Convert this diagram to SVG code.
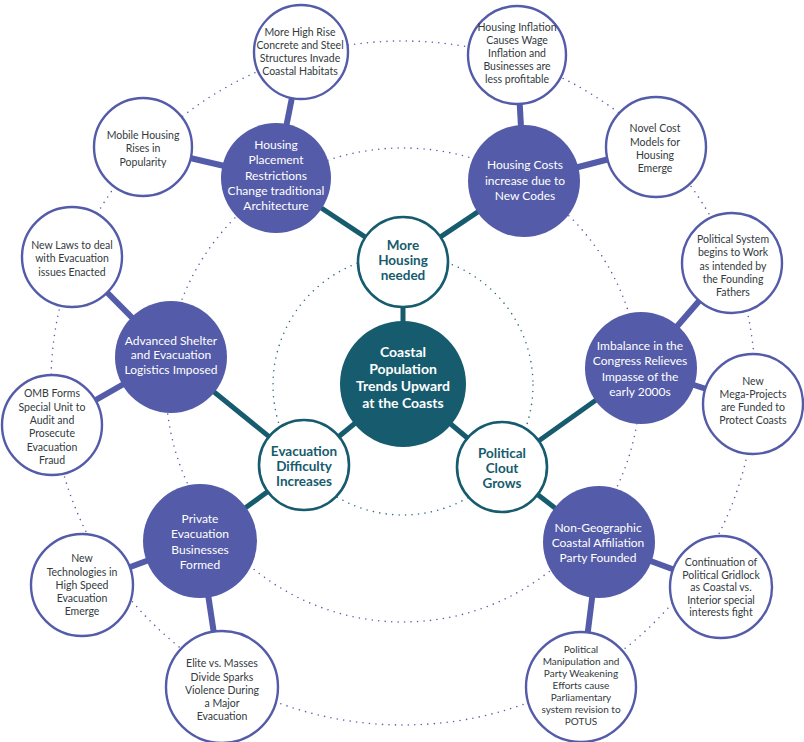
<svg xmlns="http://www.w3.org/2000/svg" width="804" height="742" viewBox="0 0 804 742">
<style>
.bg{fill:#ffffff}
.ring{fill:none;stroke-linecap:round;stroke-width:1.6;stroke-dasharray:0 6.5}
.rp{stroke:#5a60ac}
.rt{stroke:#2e6e80}
.ct{stroke:#165b6e;stroke-width:5;fill:none}
.cp{stroke:#545ba8;stroke-width:6;fill:none}
.core{fill:#165b6e}
.mid{fill:#ffffff;stroke:#165b6e;stroke-width:2.6}
.pur{fill:#545ba8}
.out{fill:#ffffff;stroke:#545ba8;stroke-width:2.4}
text{font-family:Lato,"Open Sans","Liberation Sans",sans-serif;text-anchor:middle}
.tc{fill:#ffffff;font-size:14px;font-weight:bold}
.tm{fill:#165b6e;font-size:13.5px;font-weight:bold}
.tp{fill:#ffffff;font-size:12px}
.to{fill:#333a40;font-size:10.5px}
.ts{fill:#333a40;font-size:10px}
</style>
<rect class="bg" x="0" y="0" width="804" height="742"/>
<g id="rings">
<circle class="ring rt" cx="403" cy="385" r="130"/>
<circle class="ring rp" cx="403" cy="385" r="237"/>
<ellipse class="ring rp" cx="403" cy="383" rx="352" ry="342"/>
</g>
<g id="connectors">
<line class="ct" x1="403" y1="384" x2="403" y2="262"/>
<line class="ct" x1="403" y1="384" x2="304" y2="465"/>
<line class="ct" x1="403" y1="384" x2="502" y2="467"/>
<line class="ct" x1="403" y1="262" x2="276" y2="178"/>
<line class="ct" x1="403" y1="262" x2="524" y2="181"/>
<line class="ct" x1="304" y1="465" x2="171" y2="357"/>
<line class="ct" x1="304" y1="465" x2="200" y2="541"/>
<line class="ct" x1="502" y1="467" x2="641" y2="368"/>
<line class="ct" x1="502" y1="467" x2="599" y2="542"/>
<line class="cp" x1="276" y1="178" x2="301" y2="52"/>
<line class="cp" x1="276" y1="178" x2="143" y2="147"/>
<line class="cp" x1="524" y1="181" x2="517" y2="55"/>
<line class="cp" x1="524" y1="181" x2="656" y2="147"/>
<line class="cp" x1="171" y1="357" x2="72" y2="257"/>
<line class="cp" x1="171" y1="357" x2="52" y2="425"/>
<line class="cp" x1="641" y1="368" x2="732" y2="263"/>
<line class="cp" x1="641" y1="368" x2="753" y2="404"/>
<line class="cp" x1="200" y1="541" x2="82" y2="585"/>
<line class="cp" x1="200" y1="541" x2="222" y2="687"/>
<line class="cp" x1="599" y1="542" x2="721" y2="587"/>
<line class="cp" x1="599" y1="542" x2="581" y2="687"/>
</g>
<g id="n-center"><circle class="core" cx="403" cy="384" r="63"/>
<text class="tc"><tspan x="403" y="357">Coastal</tspan><tspan x="403" y="374">Population</tspan><tspan x="403" y="391">Trends Upward</tspan><tspan x="403" y="408">at the Coasts</tspan></text></g>
<g id="n-housing"><circle class="mid" cx="403" cy="262" r="45"/>
<text class="tm"><tspan x="403" y="250">More</tspan><tspan x="403" y="265">Housing</tspan><tspan x="403" y="280">needed</tspan></text></g>
<g id="n-evac"><circle class="mid" cx="304" cy="465" r="45"/>
<text class="tm"><tspan x="304" y="456">Evacuation</tspan><tspan x="304" y="471">Difficulty</tspan><tspan x="304" y="486">Increases</tspan></text></g>
<g id="n-clout"><circle class="mid" cx="502" cy="467" r="45"/>
<text class="tm"><tspan x="502" y="458">Political</tspan><tspan x="502" y="473">Clout</tspan><tspan x="502" y="488">Grows</tspan></text></g>
<g id="n-placement"><circle class="pur" cx="276" cy="178" r="55"/>
<text class="tp"><tspan x="276" y="149">Housing</tspan><tspan x="276" y="164">Placement</tspan><tspan x="276" y="180">Restrictions</tspan><tspan x="276" y="195">Change traditional</tspan><tspan x="276" y="210">Architecture</tspan></text></g>
<g id="n-costs"><circle class="pur" cx="524" cy="181" r="56"/>
<text class="tp"><tspan x="525" y="169">Housing Costs</tspan><tspan x="525" y="185">increase due to</tspan><tspan x="525" y="200">New Codes</tspan></text></g>
<g id="n-shelter"><circle class="pur" cx="171" cy="357" r="56"/>
<text class="tp"><tspan x="171" y="345">Advanced Shelter</tspan><tspan x="171" y="359">and Evacuation</tspan><tspan x="171" y="374">Logistics Imposed</tspan></text></g>
<g id="n-imbalance"><circle class="pur" cx="641" cy="368" r="56"/>
<text class="tp"><tspan x="640" y="350">Imbalance in the</tspan><tspan x="640" y="365">Congress Relieves</tspan><tspan x="640" y="381">Impasse of the</tspan><tspan x="640" y="396">early 2000s</tspan></text></g>
<g id="n-private"><circle class="pur" cx="200" cy="541" r="57"/>
<text class="tp"><tspan x="200" y="523">Private</tspan><tspan x="200" y="538">Evacuation</tspan><tspan x="200" y="554">Businesses</tspan><tspan x="200" y="569">Formed</tspan></text></g>
<g id="n-party"><circle class="pur" cx="599" cy="542" r="56"/>
<text class="tp"><tspan x="598" y="532">Non-Geographic</tspan><tspan x="598" y="547">Coastal Affiliation</tspan><tspan x="598" y="562">Party Founded</tspan></text></g>
<g id="n-highrise"><circle class="out" cx="301" cy="52" r="47"/>
<text class="to"><tspan x="300" y="36">More High Rise</tspan><tspan x="300" y="49">Concrete and Steel</tspan><tspan x="300" y="62">Structures Invade</tspan><tspan x="300" y="75">Coastal Habitats</tspan></text></g>
<g id="n-inflation"><circle class="out" cx="517" cy="55" r="49"/>
<text class="to"><tspan x="517" y="31">Housing Inflation</tspan><tspan x="517" y="44">Causes Wage</tspan><tspan x="517" y="57">Inflation and</tspan><tspan x="517" y="70">Businesses are</tspan><tspan x="517" y="83">less profitable</tspan></text></g>
<g id="n-mobile"><circle class="out" cx="143" cy="147" r="49"/>
<text class="to"><tspan x="143" y="139">Mobile Housing</tspan><tspan x="143" y="152">Rises in</tspan><tspan x="143" y="166">Popularity</tspan></text></g>
<g id="n-laws"><circle class="out" cx="72" cy="257" r="50"/>
<text class="to"><tspan x="72" y="249">New Laws to deal</tspan><tspan x="72" y="262">with Evacuation</tspan><tspan x="72" y="276">issues Enacted</tspan></text></g>
<g id="n-novel"><circle class="out" cx="656" cy="147" r="50"/>
<text class="to"><tspan x="655" y="132">Novel Cost</tspan><tspan x="655" y="146">Models for</tspan><tspan x="655" y="159">Housing</tspan><tspan x="655" y="172">Emerge</tspan></text></g>
<g id="n-system"><circle class="out" cx="732" cy="263" r="50"/>
<text class="to"><tspan x="733" y="243">Political System</tspan><tspan x="733" y="256">begins to Work</tspan><tspan x="733" y="270">as intended by</tspan><tspan x="733" y="283">the Founding</tspan><tspan x="733" y="296">Fathers</tspan></text></g>
<g id="n-omb"><circle class="out" cx="52" cy="425" r="50"/>
<text class="to"><tspan x="52" y="397">OMB Forms</tspan><tspan x="52" y="411">Special Unit to</tspan><tspan x="52" y="424">Audit and</tspan><tspan x="52" y="437">Prosecute</tspan><tspan x="52" y="451">Evacuation</tspan><tspan x="52" y="464">Fraud</tspan></text></g>
<g id="n-mega"><circle class="out" cx="753" cy="404" r="50"/>
<text class="to"><tspan x="753" y="385">New</tspan><tspan x="753" y="398">Mega-Projects</tspan><tspan x="753" y="411">are Funded to</tspan><tspan x="753" y="424">Protect Coasts</tspan></text></g>
<g id="n-tech"><circle class="out" cx="82" cy="585" r="51"/>
<text class="to"><tspan x="82" y="562">New</tspan><tspan x="82" y="576">Technologies in</tspan><tspan x="82" y="589">High Speed</tspan><tspan x="82" y="602">Evacuation</tspan><tspan x="82" y="615">Emerge</tspan></text></g>
<g id="n-gridlock"><circle class="out" cx="721" cy="587" r="51"/>
<text class="to"><tspan x="721" y="566">Continuation of</tspan><tspan x="721" y="578.5">Political Gridlock</tspan><tspan x="721" y="591">as Coastal vs.</tspan><tspan x="721" y="603.5">Interior special</tspan><tspan x="721" y="616">interests fight</tspan></text></g>
<g id="n-manip"><circle class="out" cx="581" cy="687" r="55"/>
<text class="ts"><tspan x="581" y="653">Political</tspan><tspan x="581" y="665">Manipulation and</tspan><tspan x="581" y="677">Party Weakening</tspan><tspan x="581" y="689">Efforts cause</tspan><tspan x="581" y="701">Parliamentary</tspan><tspan x="581" y="713">system revision to</tspan><tspan x="581" y="725">POTUS</tspan></text></g>
<g id="n-elite"><circle class="out" cx="222" cy="687" r="56"/>
<text class="to"><tspan x="222" y="667">Elite vs. Masses</tspan><tspan x="222" y="681">Divide Sparks</tspan><tspan x="222" y="694">Violence During</tspan><tspan x="222" y="707">a Major</tspan><tspan x="222" y="720">Evacuation</tspan></text></g>
</svg>
